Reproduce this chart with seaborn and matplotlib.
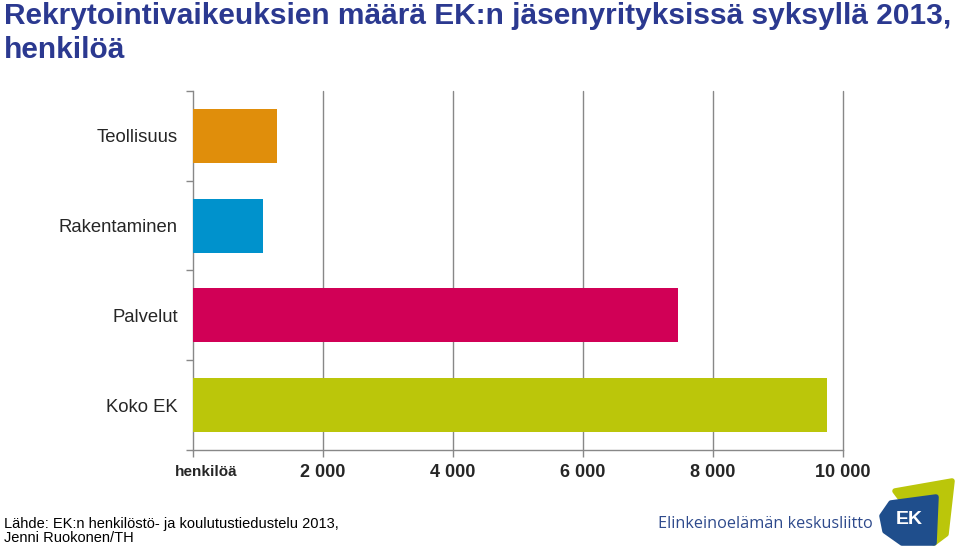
import matplotlib
matplotlib.use("Agg")
import matplotlib.pyplot as plt
import matplotlib.patches as mpatches
import seaborn as sns
import pandas as pd

# data
categories = ["Teollisuus", "Rakentaminen", "Palvelut", "Koko EK"]
values = [1300, 1080, 7460, 9750]
colors = ["#E08E0B", "#0092CC", "#D10056", "#BBC60A"]
tick_values = [0, 2000, 4000, 6000, 8000, 10000]
tick_labels = ["henkilöä", "2 000", "4 000", "6 000", "8 000", "10 000"]

title = "Rekrytointivaikeuksien määrä EK:n jäsenyrityksissä syksyllä 2013,\nhenkilöä"
source = "Lähde: EK:n henkilöstö- ja koulutustiedustelu 2013,\nJenni Ruokonen/TH"

sns.set_style("white")
plt.rcParams["font.family"] = ["Liberation Sans", "DejaVu Sans"]

df = pd.DataFrame({"ala": categories, "maara": values})

fig = plt.figure(figsize=(9.6, 5.47), dpi=100)
ax = fig.add_axes([0.201, 0.177, 0.677, 0.657])

sns.barplot(data=df, y="ala", x="maara", hue="ala", palette=colors,
            legend=False, width=0.6, ax=ax, saturation=1, zorder=3,
            linewidth=0)

ax.set_xlim(0, 10000)
ax.set_ylim(3.5, -0.5)
ax.set_xticks(tick_values)
ax.set_xticklabels([""] + tick_labels[1:], fontsize=13, fontweight="bold")
# first tick label sits a bit right of its tick
ax.annotate(tick_labels[0], xy=(tick_values[0], 0),
            xycoords=("data", "axes fraction"), xytext=(13, -22),
            textcoords="offset pixels", ha="center", va="center",
            fontsize=11, fontweight="bold")
ax.set_xlabel("")
ax.set_ylabel("")
ax.set_yticks(range(len(categories)))
ax.set_yticklabels(categories, fontsize=13.3)
ax.tick_params(axis="y", length=0, pad=11)
ax.set_yticks([-0.5, 0.5, 1.5, 2.5, 3.5], minor=True)
ax.tick_params(axis="y", which="minor", length=5, color="#888888", width=1,
               left=True)
ax.tick_params(axis="x", length=5, color="#888888", width=1, pad=5,
               direction="out", bottom=True)
for v in tick_values[1:]:
    ax.axvline(v, color="#888888", linewidth=1, zorder=0, clip_on=False)
for s in ["top", "right"]:
    ax.spines[s].set_visible(False)
for s in ["left", "bottom"]:
    ax.spines[s].set_color("#888888")
    ax.spines[s].set_linewidth(1)

fig.text(0.004, 0.997, title, fontsize=21.5, fontweight="bold", color="#2B3990",
         va="top", ha="left", linespacing=1.3)
fig.text(0.004, 0.003, source, fontsize=10.5, color="black", va="bottom",
         ha="left", linespacing=1.05)

# EK logo
fig.text(0.685, 0.042, "Elinkeinoelämän keskusliitto", fontsize=11.7,
         color="#2E4A8C", va="center", ha="left", family="Open Sans")
lax = fig.add_axes([870 / 960, 0.0, 90 / 960, 77 / 547])
lax.set_xlim(870, 960)
lax.set_ylim(547, 470)
lax.axis("off")
lax.add_patch(mpatches.Polygon([[895, 491], [952, 481], [946, 534],
                                [934, 543]],
                               closed=True, facecolor="#BBC60A",
                               edgecolor="#BBC60A", linewidth=4,
                               joinstyle="round"))
lax.add_patch(mpatches.Polygon([[882, 516], [891, 503], [936, 497],
                                [934, 543], [902, 543], [885, 531]],
                               closed=True, facecolor="#1F4E8C",
                               edgecolor="#1F4E8C", linewidth=4,
                               joinstyle="round"))
lax.text(909, 519, "EK", color="white", fontsize=14, fontweight="bold",
         ha="center", va="center")

fig.savefig("out.png", dpi=100)
